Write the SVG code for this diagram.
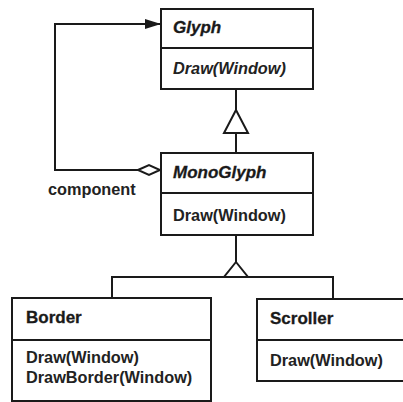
<svg xmlns="http://www.w3.org/2000/svg" width="403" height="402" viewBox="0 0 403 402">
<defs>
<style>
.box{fill:#fff;stroke:#1a1a1a;stroke-width:2}
.ln{fill:none;stroke:#1a1a1a;stroke-width:2}
.hd{font-family:"Liberation Sans",Arial,sans-serif;font-size:17px;font-weight:bold;fill:#1a1a1a;stroke:#1a1a1a;stroke-width:0.3}
.mt{font-family:"Liberation Sans",Arial,sans-serif;font-size:16.3px;font-weight:bold;fill:#222}
.it{font-style:italic}
</style>
<marker id="filled" viewBox="0 0 16 10" refX="16" refY="5" markerWidth="16" markerHeight="10" markerUnits="userSpaceOnUse" orient="auto">
<path d="M0,0 L16,5 L0,10 Z" fill="#1a1a1a"/>
</marker>
</defs>
<rect width="403" height="402" fill="#fff"/>
<g id="connectors">
<path class="ln" d="M236,89 V110 M236,133 V153"/>
<path class="ln" d="M236,110 L248,133 L224,133 Z" style="fill:#fff"/>
<path class="ln" d="M236,235 V262"/>
<path class="ln" d="M236,262 L248,277 L224,277 Z" style="fill:#fff"/>
<path class="ln" d="M112,298 V277 H333 V299"/>
<path class="ln" d="M138,170 H55 V24 H161" marker-end="url(#filled)"/>
<path class="ln" d="M138,170 L149,165 L160,170 L149,175 Z" style="fill:#fff"/>
<text class="mt" x="48" y="195">component</text>
</g>
<g id="glyph">
<rect class="box" x="161" y="9" width="152" height="80"/>
<line class="ln" x1="161" y1="48" x2="313" y2="48"/>
<text class="hd it" x="173" y="33">Glyph</text>
<text class="mt it" x="173" y="74">Draw(Window)</text>
</g>
<g id="monoglyph">
<rect class="box" x="161" y="153" width="152" height="82"/>
<line class="ln" x1="161" y1="193" x2="313" y2="193"/>
<text class="hd it" x="173" y="178">MonoGlyph</text>
<text class="mt" x="173" y="221">Draw(Window)</text>
</g>
<g id="border">
<rect class="box" x="12" y="298" width="199" height="103"/>
<line class="ln" x1="12" y1="340" x2="211" y2="340"/>
<text class="hd" x="26" y="323">Border</text>
<text class="mt" x="26" y="363">Draw(Window)</text>
<text class="mt" x="26" y="383">DrawBorder(Window)</text>
</g>
<g id="scroller">
<rect class="box" x="257" y="299" width="150" height="82"/>
<line class="ln" x1="257" y1="340" x2="403" y2="340"/>
<text class="hd" x="270" y="324">Scroller</text>
<text class="mt" x="270" y="366">Draw(Window)</text>
</g>
</svg>
